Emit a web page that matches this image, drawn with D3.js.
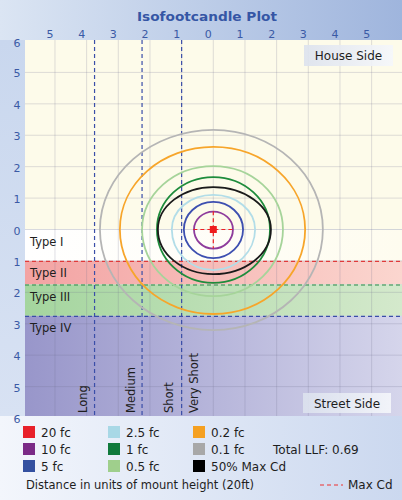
<!DOCTYPE html>
<html><head><meta charset="utf-8">
<script src="https://cdn.jsdelivr.net/npm/d3@7"></script>
<style>html,body{margin:0;padding:0;background:#fff}svg{display:block}</style>
</head><body>
<script>
// ---- data ----
const xTicks = [-5,-4,-3,-2,-1,0,1,2,3,4,5];
const yTicks = [-6,-5,-4,-3,-2,-1,0,1,2,3,4,5,6];
const bandNames = ["Type I","Type II","Type III","Type IV"];
const bandStart = [0, 1.0, 1.75, 2.75];
const bandEnd   = [1.0, 1.75, 2.75, 6];
const rangeNames = ["Long","Medium","Short","Very Short"];
const rangeLines = [-3.75, -2.25, -1.0];
const rangeLabelX = [-4.1, -2.6, -1.4, -0.6];
const legendLabels = ["20 fc","10 fc","5 fc","2.5 fc","1 fc","0.5 fc","0.2 fc","0.1 fc","50% Max Cd"];
const legendColors = ["#e8202a","#7a2a86","#3450a0","#a8d8e6","#107a3c","#9fcf8c","#f5a021","#a8a8a8","#000000"];
// contour points: E, SE, S(street), SW, W, NW, N(house), NE  (units of mount height)
const contourNames = ["0.1 fc","0.2 fc","0.5 fc","1 fc","50% Max Cd","2.5 fc","5 fc","10 fc"];
const contourColors = ["#b5b5b5","#f7a52a","#a6d49a","#1e8c3c","#1a1a1a","#b2dde8","#3d4fb0","#8e3c9c"];
const contourPts = [
  [[3.46,0],[2.45,2.26],[0,3.2],[-2.53,2.26],[-3.58,0],[-2.53,-2.24],[0,-3.17],[2.45,-2.24]],
  [[2.9,0],[2.05,1.9],[0,2.69],[-2.09,1.9],[-2.95,0],[-2.09,-1.86],[0,-2.63],[2.05,-1.86]],
  [[2.2,0],[1.56,1.5],[0,2.12],[-1.59,1.5],[-2.25,0],[-1.59,-1.43],[0,-2.02],[1.56,-1.43]],
  [[1.79,0],[1.27,1.2],[0,1.7],[-1.26,1.2],[-1.78,0],[-1.26,-1.18],[0,-1.67],[1.27,-1.18]],
  [[1.82,0],[1.29,1.0],[0,1.42],[-1.24,1.0],[-1.75,0],[-1.24,-0.95],[0,-1.35],[1.29,-0.95]],
  [[1.32,0],[0.93,0.91],[0,1.29],[-0.93,0.91],[-1.31,0],[-0.93,-0.78],[0,-1.1],[0.93,-0.78]],
  [[0.94,0],[0.66,0.64],[0,0.91],[-0.66,0.64],[-0.93,0],[-0.66,-0.62],[0,-0.88],[0.66,-0.62]],
  [[0.62,0],[0.44,0.43],[0,0.61],[-0.43,0.43],[-0.61,0],[-0.43,-0.4],[0,-0.57],[0.44,-0.4]]
];
const maxCd = [0, 0];
const maxCdCrossX = [-0.63, 0.63];
const maxCdCrossY = [-0.58, 0.6];
const totalLLF = 0.69;

// ---- layout ----
const W = 402, H = 500;
const P = {l:25, r:402, t:40, b:416};
const svg = d3.select("body").append("svg").attr("width",W).attr("height",H);
const defs = svg.append("defs");
function grad(id, stops, x2="100%", y2="0%"){
  const g = defs.append("linearGradient").attr("id",id).attr("x1","0%").attr("y1","0%").attr("x2",x2).attr("y2",y2);
  stops.forEach(s=>g.append("stop").attr("offset",s[0]).attr("stop-color",s[1]));
}
grad("bg",[["0%","#e6edf8"],["100%","#c2d2ec"]]);
grad("hdr",[["0%","#dbe5f3"],["100%","#9fb5dd"]]);
grad("lft",[["0%","#c9d7ee"],["100%","#d8e2f3"]],"0%","100%");
grad("ftr",[["0%","#f3f6fc"],["100%","#cbd8ef"]]);
grad("b0",[["0%","#ffffff"],["100%","#fefcef"]]);
grad("b1",[["0%","#f3a3a3"],["100%","#fbd6cf"]]);
grad("b2",[["0%","#a4d59e"],["100%","#d4e9cc"]]);
grad("b3",[["0%","#9896ca"],["100%","#d5d5eb"]]);
grad("box",[["0%","#dce2ee"],["100%","#f5f7fb"]]);
const bandFill = ["url(#b0)","url(#b1)","url(#b2)","url(#b3)"];
const bandLine = [null,"#e03a3a","#2a8a48","#3a4ea8"];

svg.append("rect").attr("width",W).attr("height",H).attr("fill","url(#bg)");
svg.append("rect").attr("width",W).attr("height",P.t).attr("fill","url(#hdr)");
svg.append("rect").attr("y",P.t).attr("width",P.l).attr("height",P.b-P.t).attr("fill","url(#lft)");
svg.append("rect").attr("y",P.b).attr("width",W).attr("height",H-P.b).attr("fill","url(#ftr)");

const x = d3.scaleLinear().domain([-6,6]).range([23.3,403.3]);
const y = d3.scaleLinear().domain([-6,6]).range([41,418]);

const clip = defs.append("clipPath").attr("id","pc");
clip.append("rect").attr("x",P.l).attr("y",P.t).attr("width",P.r-P.l).attr("height",P.b-P.t);
const plot = svg.append("g").attr("clip-path","url(#pc)");

// cream house side
plot.append("rect").attr("x",P.l).attr("y",P.t).attr("width",P.r-P.l).attr("height",y(0)-P.t).attr("fill","#fdfbea");
// type bands
bandNames.forEach((n,i)=>{
  plot.append("rect").attr("x",P.l).attr("width",P.r-P.l)
    .attr("y",y(bandStart[i])).attr("height",y(bandEnd[i])-y(bandStart[i]))
    .attr("fill",bandFill[i]);
});
// grid
plot.append("g").selectAll("line").data(xTicks).join("line")
  .attr("x1",d=>x(d)).attr("x2",d=>x(d)).attr("y1",P.t).attr("y2",P.b)
  .attr("stroke","rgba(110,110,140,0.22)").attr("stroke-width",1);
plot.append("g").selectAll("line").data(yTicks.filter(d=>Math.abs(d)<6)).join("line")
  .attr("y1",d=>y(d)).attr("y2",d=>y(d)).attr("x1",P.l).attr("x2",P.r)
  .attr("stroke","rgba(110,110,140,0.22)").attr("stroke-width",1);
// band dashed boundaries
bandNames.forEach((n,i)=>{
  if(!bandLine[i]) return;
  plot.append("line").attr("x1",P.l).attr("x2",P.r).attr("y1",y(bandStart[i])+0.5).attr("y2",y(bandStart[i])+0.5)
    .attr("stroke",bandLine[i]).attr("stroke-width",1.2).attr("stroke-dasharray","4,3");
});
// range dashed lines
plot.append("g").selectAll("line").data(rangeLines).join("line")
  .attr("x1",d=>x(d)).attr("x2",d=>x(d)).attr("y1",P.t).attr("y2",P.b)
  .attr("stroke","#3a4ea8").attr("stroke-width",1.2).attr("stroke-dasharray","4,3");

// contours
const line = d3.line().x(d=>x(d[0])).y(d=>y(d[1])).curve(d3.curveCardinalClosed.tension(-0.125));
plot.append("g").selectAll("path").data(contourPts).join("path")
  .attr("d",d=>line(d)).attr("fill","none")
  .attr("stroke",(d,i)=>contourColors[i]).attr("stroke-width",1.8);

// max cd cross
plot.append("line").attr("x1",x(maxCdCrossX[0])).attr("x2",x(maxCdCrossX[1])).attr("y1",y(maxCd[1])).attr("y2",y(maxCd[1]))
  .attr("stroke","#ee2020").attr("stroke-width",1.2).attr("stroke-dasharray","4,3");
plot.append("line").attr("y1",y(maxCdCrossY[0])).attr("y2",y(maxCdCrossY[1])).attr("x1",x(maxCd[0])).attr("x2",x(maxCd[0]))
  .attr("stroke","#ee2020").attr("stroke-width",1.2).attr("stroke-dasharray","4,3");
plot.append("rect").attr("x",x(maxCd[0])-3.5).attr("y",y(maxCd[1])-3.5).attr("width",7).attr("height",7).attr("fill","#ee1c1c");

const FONT = "DejaVu Sans, Verdana, sans-serif";
// type labels
bandNames.forEach((n,i)=>{
  plot.append("text").attr("x",30).attr("y",y(bandStart[i])+16.5)
    .attr("font-family",FONT).attr("font-size",11.5).attr("fill","#1e1e1e").text(n);
});
// range labels
rangeNames.forEach((n,i)=>{
  plot.append("text").attr("transform",`translate(${x(rangeLabelX[i])+4},${P.b-3}) rotate(-90)`)
    .attr("font-family",FONT).attr("font-size",11.5).attr("fill","#1e1e1e").text(n);
});
// side boxes
function sideBox(label, bx, by, bw, bh){
  plot.append("rect").attr("x",bx).attr("y",by).attr("width",bw).attr("height",bh).attr("fill","url(#box)").attr("opacity",0.9);
  plot.append("text").attr("x",bx+bw/2).attr("y",by+bh/2+4.5).attr("text-anchor","middle")
    .attr("font-family",FONT).attr("font-size",12).attr("fill","#1e1e1e").text(label);
}
sideBox("House Side",304,45,89,21);
sideBox("Street Side",303,393,88,20);

// axes labels
svg.append("text").attr("x",207).attr("y",21).attr("text-anchor","middle")
  .attr("font-family",FONT).attr("font-weight","bold").attr("font-size",13).attr("fill","#3556a5")
  .attr("textLength",140).attr("lengthAdjust","spacingAndGlyphs").text("Isofootcandle Plot");
svg.append("g").selectAll("text").data(xTicks).join("text")
  .attr("x",d=>x(d)-5).attr("y",38).attr("text-anchor","middle")
  .attr("font-family",FONT).attr("font-size",11).attr("fill","#3a5aa5").text(d=>Math.abs(d));
svg.append("g").selectAll("text").data(yTicks).join("text")
  .attr("x",17).attr("y",d=>y(d)+ (d==-6?6:5)).attr("text-anchor","middle")
  .attr("font-family",FONT).attr("font-size",11).attr("fill","#3a5aa5").text(d=>Math.abs(d));

// legend
const lg = svg.append("g");
legendLabels.forEach((n,i)=>{
  const col = Math.floor(i/3), row = i%3;
  const lx = [23,108,193][col], ly = 426 + row*17;
  lg.append("rect").attr("x",lx).attr("y",ly).attr("width",12).attr("height",12).attr("fill",legendColors[i]);
  lg.append("text").attr("x",lx+18).attr("y",ly+11).attr("font-family",FONT).attr("font-size",12).attr("fill","#1e1e1e").text(n);
});
lg.append("text").attr("x",273).attr("y",454).attr("font-family",FONT).attr("font-size",12).attr("fill","#1e1e1e").text("Total LLF: "+totalLLF);
lg.append("text").attr("x",26).attr("y",489).attr("font-family",FONT).attr("font-size",11.5).attr("fill","#1e1e1e").text("Distance in units of mount height (20ft)");
lg.append("line").attr("x1",320).attr("x2",343).attr("y1",485).attr("y2",485).attr("stroke","#ee3030").attr("stroke-width",1.2).attr("stroke-dasharray","4,3");
lg.append("text").attr("x",348).attr("y",489).attr("font-family",FONT).attr("font-size",12).attr("fill","#1e1e1e").text("Max Cd");
</script>
</body></html>
